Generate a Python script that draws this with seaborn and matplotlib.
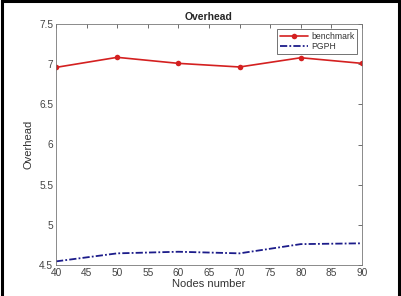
import matplotlib
matplotlib.use("Agg")
import matplotlib.pyplot as plt
import seaborn as sns
import pandas as pd
from matplotlib.lines import Line2D

nodes = [40, 50, 60, 70, 80, 90]
benchmark = [6.96, 7.085, 7.01, 6.965, 7.08, 7.01]
pgph = [4.545, 4.645, 4.665, 4.645, 4.76, 4.77]
x_ticks = [40, 45, 50, 55, 60, 65, 70, 75, 80, 85, 90]
y_ticks = [4.5, 5, 5.5, 6, 6.5, 7, 7.5]
y_tick_labels = ["4.5", "5", "5.5", "6", "6.5", "7", "7.5"]

sns.set_theme(style="white")
plt.rcParams['font.family'] = ['Liberation Sans', 'DejaVu Sans']

df = pd.DataFrame({
    "nodes": nodes * 2,
    "value": benchmark + pgph,
    "series": ["benchmark"] * len(nodes) + ["PGPH"] * len(nodes),
})

fig = plt.figure(figsize=(4.02, 2.96), dpi=100)
ax = fig.add_axes([56 / 402, 1 - 265 / 296, (362 - 56) / 402, (265 - 24) / 296])

sns.lineplot(data=df[df.series == "benchmark"], x="nodes", y="value", ax=ax,
             color="#d42020", marker="o", markersize=4, markeredgewidth=0,
             linewidth=1.2, label="benchmark")
sns.lineplot(data=df[df.series == "PGPH"], x="nodes", y="value", ax=ax,
             color="#1c1c8a", dashes=[(4, 1.2, 1, 1.2)], style=df[df.series == "PGPH"]["series"],
             linewidth=1.3, legend=False)
ax.lines[-1].set_label("PGPH")

ax.set_xlim(40, 90)
ax.set_ylim(4.5, 7.5)
ax.set_xticks(x_ticks)
ax.set_yticks(y_ticks)
ax.set_yticklabels(y_tick_labels)
ax.tick_params(direction="in", length=3, width=0.6, colors="#555555",
               labelsize=7.3, top=True, right=True, pad=2,
               labelcolor="#444444")
for s in ax.spines.values():
    s.set_color("#777777")
    s.set_linewidth(0.6)
ax.set_xlabel("Nodes number", fontsize=8, color="#333333", labelpad=1)
ax.set_ylabel("Overhead", fontsize=8, color="#333333", labelpad=4)
ax.set_title("Overhead", fontsize=7.5, fontweight="bold", pad=3)

handles, labels = ax.get_legend_handles_labels()
pg = Line2D([], [], color="#1c1c8a", linewidth=1.3, dashes=(4, 1.2, 1, 1.2))
h = [handles[labels.index("benchmark")], pg]
leg = ax.legend(h, ["benchmark", "PGPH"], loc="upper right", fontsize=6.2,
                frameon=True, fancybox=False,
                borderpad=0.3, labelspacing=0.2, handlelength=3.2,
                handletextpad=0.4, borderaxespad=0.6)
leg.get_frame().set_edgecolor("#333333")
leg.get_frame().set_linewidth(0.6)
for t in leg.get_texts():
    t.set_color("#333333")

for xs, ys in [([0.006, 0.006], [0, 1]), ([0.006, 0.993], [0.997, 0.997]),
               ([0.993, 0.993], [0, 1])]:
    fig.add_artist(Line2D(xs, ys, transform=fig.transFigure, color="black",
                          linewidth=2.2))

fig.savefig("out.png", dpi=100)
